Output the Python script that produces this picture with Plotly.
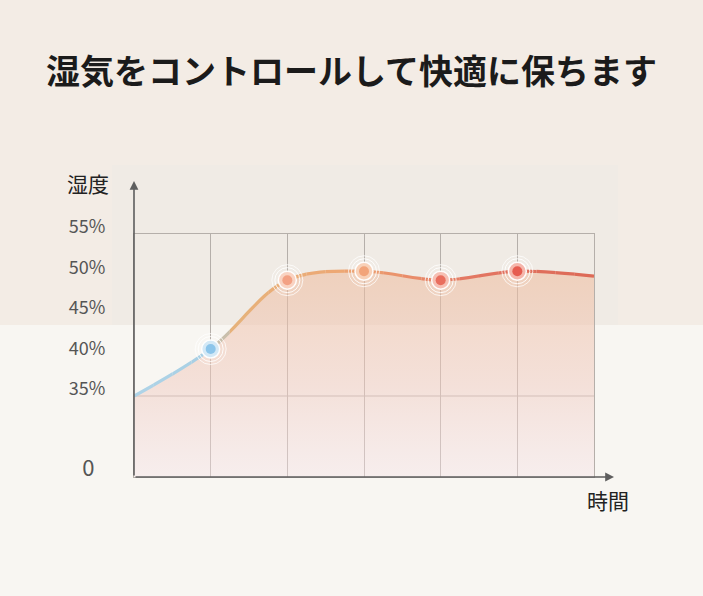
import plotly.graph_objects as go
from plotly.colors import sample_colorscale

# ---------------- data ----------------
TITLE = "湿気をコントロールして快適に保ちます"
Y_TITLE = "湿度"
X_TITLE = "時間"
TIME = [0, 1, 2, 3, 4, 5, 6]
HUMIDITY = [35.0, 40.8, 49.3, 50.4, 49.3, 50.4, 49.8]
POINT_TIME = [1, 2, 3, 4, 5]
POINT_HUMIDITY = [40.8, 49.3, 50.4, 49.3, 50.4]
Y_TICK_VALUES = [25, 35, 40, 45, 50, 55]
Y_TICK_LABELS = ['<span style="font-size:22px">0\u2002</span>', "35%", "40%", "45%", "50%", "55%"]
GRID_Y = [35, 45, 55]
GRID_X = [1, 2, 3, 4, 5, 6]
Y_RANGE = [25, 55]
X_RANGE = [0, 6]

# ---------------- styling ----------------
W, H = 703, 596
FONT = "Noto Sans CJK JP"
GRID = "#b5afaa"
AXIS = "#5e5e5e"
POINT_CORE = ["#8cc5ea", "#f3a184", "#f2a47a", "#e96e5e", "#e65c50"]
POINT_HALO = ["#d4e9f6", "#f9d3c2", "#f8d1b8", "#f6c0b4", "#f5b7ac"]
LINE_SCALE = [[0.0, "#afd4e8"], [0.15, "#a8cfe4"], [0.22, "#e6b27b"],
              [0.45, "#eda774"], [0.6, "#e98d6a"], [0.75, "#e27562"], [1.0, "#dd6956"]]
N_SLICES = 24


def px(x):
    return x / W


def py(y):
    return 1 - y / H


XD = [px(134), px(594)]
YD = [py(477), py(234)]

fig = go.Figure()

# area under the curve
fig.add_trace(go.Scatter(
    x=TIME, y=HUMIDITY, mode="lines", line=dict(width=0, shape="spline", smoothing=1.0),
    fill="tozeroy",
    fillgradient=dict(type="vertical", start=25, stop=50,
                      colorscale=[[0, "rgba(245,226,230,0.42)"], [0.45, "rgba(240,204,194,0.52)"],
                                  [1, "rgba(238,188,158,0.56)"]]),
    xaxis="x", yaxis="y", hoverinfo="skip", showlegend=False))

layout_axes = {}
# colour-graded line: same curve drawn in narrow clipped slices
for i in range(N_SLICES):
    k = i + 2
    f0, f1 = i / N_SLICES, (i + 1) / N_SLICES
    col = sample_colorscale(LINE_SCALE, [(f0 + f1) / 2])[0]
    fig.add_trace(go.Scatter(
        x=TIME, y=HUMIDITY, mode="lines",
        line=dict(width=3.2, shape="spline", smoothing=1.0, color=col),
        xaxis=f"x{k}", yaxis="y", hoverinfo="skip", showlegend=False))
    layout_axes[f"xaxis{k}"] = dict(
        domain=[XD[0] + (XD[1] - XD[0]) * f0, XD[0] + (XD[1] - XD[0]) * f1],
        range=[X_RANGE[0] + (X_RANGE[1] - X_RANGE[0]) * f0, X_RANGE[0] + (X_RANGE[1] - X_RANGE[0]) * f1],
        visible=False, anchor="y", fixedrange=True)

# point markers in a top subplot
MK = N_SLICES + 2
mk_ax = f"x{MK}"
layout_axes[f"xaxis{MK}"] = dict(domain=XD, range=X_RANGE, visible=False, anchor="y")
for size, alpha in [(31, 0.75), (25, 0.9)]:
    fig.add_trace(go.Scatter(
        x=POINT_TIME, y=POINT_HUMIDITY, mode="markers", cliponaxis=False,
        marker=dict(size=size, symbol="circle-open", color=f"rgba(255,255,255,{alpha})",
                    line=dict(width=1)),
        xaxis=mk_ax, yaxis="y", hoverinfo="skip", showlegend=False))
fig.add_trace(go.Scatter(
    x=POINT_TIME, y=POINT_HUMIDITY, mode="markers", cliponaxis=False,
    marker=dict(size=18, color=POINT_HALO, line=dict(width=1.5, color="rgba(255,255,255,0.95)")),
    xaxis=mk_ax, yaxis="y", hoverinfo="skip", showlegend=False))
fig.add_trace(go.Scatter(
    x=POINT_TIME, y=POINT_HUMIDITY, mode="markers", cliponaxis=False,
    marker=dict(size=10, color=POINT_CORE, line=dict(width=0)),
    xaxis=mk_ax, yaxis="y", hoverinfo="skip", showlegend=False))

fig.update_layout(
    width=W, height=H, autosize=False,
    margin=dict(l=0, r=0, t=0, b=0, autoexpand=False),
    paper_bgcolor="#f8f6f2", plot_bgcolor="rgba(0,0,0,0)",
    font=dict(family=FONT, color="#222"),
    showlegend=False,
    title=dict(text=TITLE, x=0.5, xanchor="center", y=py(72), yanchor="middle", automargin=False,
               font=dict(family=FONT, size=34, color="#1b1b1b", weight=700)),
    xaxis=dict(domain=XD, range=X_RANGE, tickvals=GRID_X, showticklabels=False,
               showgrid=True, gridcolor=GRID, gridwidth=1, zeroline=False, automargin=False,
               showline=True, linecolor=GRID, linewidth=1, mirror=True, ticks="", anchor="y"),
    yaxis=dict(domain=YD, range=Y_RANGE, tickvals=Y_TICK_VALUES, ticktext=Y_TICK_LABELS,
               showgrid=False, zeroline=False, automargin=False,
               showline=True, linecolor=GRID, linewidth=1, mirror=True, ticks="", anchor="x",
               ticklabelstandoff=24, ticklabelshift=-7,
               tickfont=dict(family=FONT, size=18, color="#555")),
    **layout_axes,
)

# horizontal gridlines
for gy in GRID_Y:
    fig.add_shape(type="line", xref="x domain", yref="y", x0=0, x1=1, y0=gy, y1=gy,
                  line=dict(color=GRID, width=1), layer="below")

# background bands
fig.add_shape(type="rect", xref="paper", yref="paper", x0=0, x1=1, y0=py(325), y1=1,
              fillcolor="#f3ece5", line=dict(width=0), layer="below")
fig.add_shape(type="rect", xref="paper", yref="paper", x0=px(112), x1=px(618), y0=py(325), y1=py(165),
              fillcolor="#f0ebe5", line=dict(width=0), layer="below")

# axis arrows
fig.add_annotation(x=px(134), y=py(181), xref="paper", yref="paper", ax=0, ay=296,
                   text="", showarrow=True, arrowhead=2, arrowsize=1.1, arrowwidth=1.6, arrowcolor=AXIS)
fig.add_annotation(x=px(614), y=py(477), xref="paper", yref="paper", ax=-480, ay=0,
                   text="", showarrow=True, arrowhead=2, arrowsize=1.1, arrowwidth=1.6, arrowcolor=AXIS)

# axis titles
fig.add_annotation(x=px(88), y=py(183), xref="paper", yref="paper", text=Y_TITLE, showarrow=False,
                   font=dict(family=FONT, size=21, color="#222"), xanchor="center", yanchor="middle")
fig.add_annotation(x=px(608), y=py(500), xref="paper", yref="paper", text=X_TITLE, showarrow=False,
                   font=dict(family=FONT, size=21, color="#222"), xanchor="center", yanchor="middle")

PAGE_JS = ("document.documentElement.style.margin='0';document.documentElement.style.padding='0';"
           "document.body.style.margin='0';document.body.style.padding='0';"
           "document.documentElement.style.overflow='hidden';document.body.style.overflow='hidden';")
fig.write_html("out.html", config={"displayModeBar": False}, post_script=PAGE_JS)
